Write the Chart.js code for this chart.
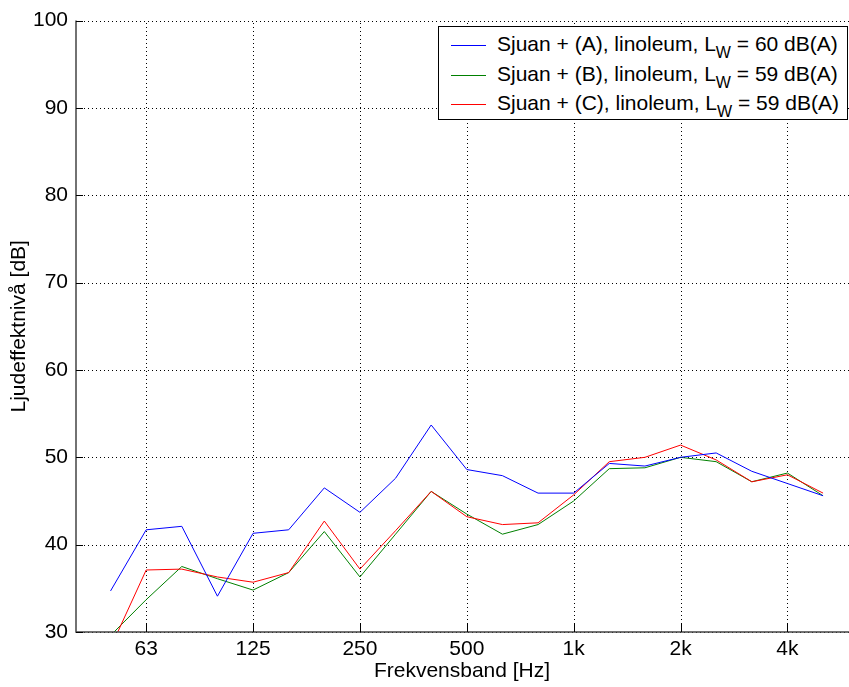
<!DOCTYPE html>
<html>
<head>
<meta charset="utf-8">
<script src="https://cdn.jsdelivr.net/npm/chart.js@4.4.0/dist/chart.umd.min.js"></script>
<style>
  body { margin: 0; background: #fff; overflow: hidden; }
  #wrap { position: relative; width: 849px; height: 687px; }
  #legend {
    position: absolute; left: 438px; top: 26px; width: 408px; height: 92px;
    border: 1.5px solid #000; background: #fff;
    font-family: "Liberation Sans", Arial, sans-serif; font-size: 21px; color: #000;
  }
  .row { position: absolute; left: 0; width: 100%; height: 30px; line-height: 30px; white-space: nowrap; }
  .swatch { position: absolute; left: 12px; top: 16px; width: 35px; height: 1px; }
  .txt { position: absolute; left: 58px; top: 0; }
  .sub { position: relative; top: 7px; font-size: 16px; }
</style>
</head>
<body>
<div id="wrap">
  <canvas id="chart" width="849" height="687"></canvas>
  <div id="legend"></div>
</div>
<script>
// Tersband 50 Hz - 5 kHz
const bandHz = [50, 63, 80, 100, 125, 160, 200, 250, 315, 400, 500, 630, 800, 1000, 1250, 1600, 2000, 2500, 3150, 4000, 5000];

// Tick-positioner (bandindex) och etiketter på x-axeln
const tickIndex = [1, 4, 7, 10, 13, 16, 19];
const tickLabels = ['63', '125', '250', '500', '1k', '2k', '4k'];

// Ljudeffektnivå per band [dB]
const sjuanA = [34.7, 41.7, 42.1, 34.1, 41.3, 41.7, 46.5, 43.7, 47.6, 53.7, 48.6, 47.9, 45.9, 45.9, 49.3, 49.0, 50.0, 50.5, 48.4, 47.0, 45.6];
const sjuanB = [29.6, 33.7, 37.5, 36.1, 34.8, 36.8, 41.5, 36.3, 41.2, 46.1, 43.5, 41.2, 42.3, 45.0, 48.7, 48.8, 50.0, 49.5, 47.2, 48.2, 45.6];
const sjuanC = [28.2, 37.1, 37.2, 36.3, 35.7, 36.8, 42.7, 37.2, 41.6, 46.1, 43.2, 42.3, 42.5, 45.7, 49.5, 50.0, 51.4, 49.7, 47.2, 48.0, 45.9];

const seriesNames = ['Sjuan + (A), linoleum, L', 'Sjuan + (B), linoleum, L', 'Sjuan + (C), linoleum, L'];
const seriesLw = ['60 dB(A)', '59 dB(A)', '59 dB(A)'];
const seriesColors = ['#0000ff', '#008000', '#ff0000'];

const FONT = '"Liberation Sans", Arial, sans-serif';

// Gör om till {x, y}-punkter med bandindex som x
function toPoints(values) {
    return values.map((v, i) => ({ x: i, y: v }));
}

// Prickat rutnät under kurvorna
const gridPlugin = {
    id: 'gridPlugin',
    beforeDatasetsDraw(chart) {
        const { ctx, chartArea: a, scales } = chart;
        ctx.save();
        ctx.strokeStyle = '#000';
        ctx.lineWidth = 1;
        ctx.setLineDash([1, 3]);
        ctx.beginPath();
        scales.y.ticks.forEach(t => {
            const y = Math.round(scales.y.getPixelForValue(t.value)) + 0.5;
            ctx.moveTo(a.left, y);
            ctx.lineTo(a.right + 1, y);
        });
        scales.x.ticks.forEach(t => {
            const x = Math.round(scales.x.getPixelForValue(t.value)) + 0.5;
            ctx.moveTo(x, a.bottom);
            ctx.lineTo(x, a.top);
        });
        ctx.stroke();
        ctx.restore();
    }
};

// Axellinjer och inåtriktade ticks (som i MATLAB)
const axesPlugin = {
    id: 'axesPlugin',
    afterDraw(chart) {
        const { ctx, chartArea: a, scales } = chart;
        ctx.save();
        ctx.strokeStyle = '#444';
        ctx.lineWidth = 1.5;
        ctx.beginPath();
        ctx.moveTo(a.left, a.top);
        ctx.lineTo(a.left, a.bottom);
        ctx.lineTo(a.right + 1, a.bottom);
        ctx.stroke();

        ctx.lineWidth = 1;
        ctx.strokeStyle = '#000';
        ctx.beginPath();
        scales.y.ticks.forEach(t => {
            const y = Math.round(scales.y.getPixelForValue(t.value)) + 0.5;
            ctx.moveTo(a.left, y);
            ctx.lineTo(a.left + 7, y);
        });
        scales.x.ticks.forEach(t => {
            const x = Math.round(scales.x.getPixelForValue(t.value)) + 0.5;
            ctx.moveTo(x, a.bottom);
            ctx.lineTo(x, a.bottom - 8);
        });
        ctx.stroke();
        ctx.restore();
    }
};

const datasets = [sjuanA, sjuanB, sjuanC].map((vals, k) => ({
    label: seriesNames[k] + 'W = ' + seriesLw[k],
    data: toPoints(vals),
    borderColor: seriesColors[k],
    backgroundColor: seriesColors[k],
    borderWidth: 1,
    pointRadius: 0,
    tension: 0,
    fill: false
}));

// Blå överst, sedan röd, grön underst
datasets[0].order = 0;
datasets[1].order = 2;
datasets[2].order = 1;

new Chart(document.getElementById('chart').getContext('2d'), {
    type: 'line',
    data: { datasets: datasets },
    options: {
        responsive: false,
        animation: false,
        layout: { padding: { top: 17, right: 1, left: 0, bottom: 0 } },
        plugins: {
            legend: { display: false },
            tooltip: { enabled: false }
        },
        scales: {
            x: {
                type: 'linear',
                min: -0.97,
                max: 20.7,
                afterBuildTicks: scale => {
                    scale.ticks = tickIndex.map(v => ({ value: v }));
                },
                afterFit: scale => { scale.height = 55; },
                ticks: {
                    color: '#000',
                    font: { family: FONT, size: 21 },
                    padding: 5,
                    maxRotation: 0,
                    autoSkip: false,
                    callback: value => tickLabels[tickIndex.indexOf(value)]
                },
                grid: { display: false, drawTicks: false },
                border: { display: false },
                title: {
                    display: true,
                    text: 'Frekvensband [Hz]',
                    color: '#000',
                    font: { family: FONT, size: 21 },
                    padding: { top: 0, bottom: 3 }
                }
            },
            y: {
                min: 30,
                max: 100,
                afterFit: scale => { scale.width = 76; },
                ticks: {
                    stepSize: 10,
                    color: '#000',
                    font: { family: FONT, size: 21 },
                    padding: 8
                },
                grid: { display: false, drawTicks: false },
                border: { display: false },
                title: {
                    display: true,
                    text: 'Ljudeffektnivå [dB]',
                    color: '#000',
                    font: { family: FONT, size: 21 },
                    padding: { top: 7, bottom: 0 }
                }
            }
        }
    },
    plugins: [gridPlugin, axesPlugin]
});

// Legend med nedsänkt W (L_W)
const legend = document.getElementById('legend');
seriesNames.forEach((name, k) => {
    const row = document.createElement('div');
    row.className = 'row';
    row.style.top = Math.round(2 + k * 29.5) + 'px';
    const sw = document.createElement('span');
    sw.className = 'swatch';
    sw.style.background = seriesColors[k];
    const txt = document.createElement('span');
    txt.className = 'txt';
    txt.innerHTML = name + '<span class="sub">W</span> = ' + seriesLw[k];
    row.appendChild(sw);
    row.appendChild(txt);
    legend.appendChild(row);
});
</script>
</body>
</html>
